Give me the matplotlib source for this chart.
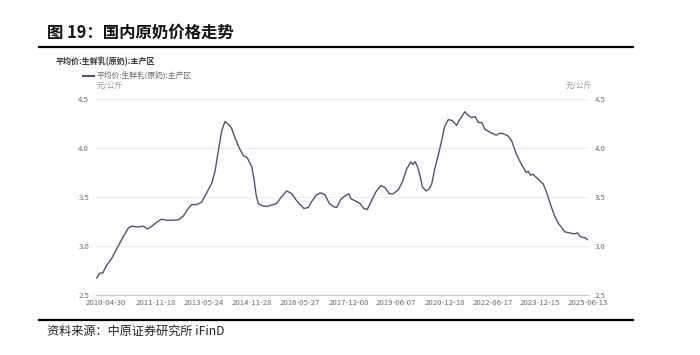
import matplotlib
matplotlib.use("Agg")
import matplotlib.pyplot as plt
import pandas as pd
from matplotlib.lines import Line2D

plt.rcParams["font.family"] = ["Noto Sans CJK SC", "DejaVu Sans"]

# 平均价:生鲜乳(原奶):主产区, 元/公斤
dates = [
    "2010-01-15", "2010-02-20", "2010-03-25", "2010-05-08", "2010-07-05", "2010-09-02",
    "2010-11-14", "2011-01-11", "2011-02-20", "2011-05-04", "2011-07-02", "2011-08-18",
    "2011-10-04", "2011-12-02", "2012-01-29", "2012-03-24", "2012-06-09", "2012-08-06",
    "2012-10-01", "2012-11-28", "2013-01-07", "2013-03-07", "2013-04-30", "2013-06-28",
    "2013-08-25", "2013-10-01", "2013-11-06", "2013-12-16", "2014-01-22", "2014-03-03",
    "2014-04-09", "2014-05-19", "2014-07-05", "2014-08-22", "2014-10-04", "2014-11-25",
    "2014-12-20", "2015-01-15", "2015-02-09", "2015-03-18", "2015-05-15", "2015-07-31",
    "2015-09-05", "2015-11-03", "2016-01-01", "2016-02-27", "2016-04-15", "2016-06-01",
    "2016-07-15", "2016-09-04", "2016-10-11", "2016-12-08", "2017-01-26", "2017-03-14",
    "2017-05-04", "2017-06-17", "2017-07-27", "2017-09-09", "2017-10-30", "2017-12-13",
    "2018-01-04", "2018-02-20", "2018-04-20", "2018-06-02", "2018-07-12", "2018-08-29",
    "2018-10-19", "2018-12-13", "2019-01-29", "2019-03-21", "2019-05-04", "2019-07-02",
    "2019-08-22", "2019-10-04", "2019-11-21", "2019-12-20", "2020-01-11", "2020-02-06",
    "2020-03-06", "2020-04-04", "2020-05-14", "2020-06-20", "2020-07-19", "2020-08-24",
    "2020-10-03", "2020-11-09", "2020-12-15", "2021-01-26", "2021-03-10", "2021-04-30",
    "2021-06-06", "2021-08-03", "2021-09-13", "2021-10-19", "2021-11-28", "2022-01-04",
    "2022-02-13", "2022-03-21", "2022-05-19", "2022-07-27", "2022-09-09", "2022-10-19",
    "2022-12-13", "2023-01-22", "2023-03-18", "2023-05-15", "2023-07-05", "2023-07-31",
    "2023-08-25", "2023-09-23", "2023-11-21", "2024-01-18", "2024-02-24", "2024-04-11",
    "2024-05-29", "2024-07-08", "2024-08-17", "2024-09-22", "2024-11-20", "2025-01-01",
    "2025-02-13", "2025-03-21", "2025-05-11", "2025-06-13",
]
prices = [
    2.67, 2.72, 2.72, 2.80, 2.87, 2.97,
    3.09, 3.18, 3.20, 3.19, 3.20, 3.17,
    3.195, 3.24, 3.27, 3.26, 3.26, 3.265,
    3.30, 3.38, 3.42, 3.42, 3.445, 3.54,
    3.64, 3.76, 3.96, 4.17, 4.27, 4.24,
    4.20, 4.10, 4.00, 3.92, 3.90, 3.81,
    3.69, 3.52, 3.43, 3.41, 3.40, 3.42,
    3.43, 3.50, 3.56, 3.53, 3.47, 3.42,
    3.38, 3.39, 3.45, 3.52, 3.54, 3.52,
    3.43, 3.40, 3.39, 3.47, 3.51, 3.53,
    3.48, 3.46, 3.43, 3.38, 3.37, 3.46,
    3.55, 3.615, 3.595, 3.53, 3.53, 3.57,
    3.66, 3.78, 3.855, 3.83, 3.86, 3.81,
    3.72, 3.60, 3.56, 3.58, 3.63, 3.79,
    3.93, 4.07, 4.22, 4.29, 4.28, 4.23,
    4.29, 4.37, 4.33, 4.31, 4.32, 4.26,
    4.26, 4.19, 4.16, 4.13, 4.15, 4.145,
    4.12, 4.07, 3.93, 3.83, 3.75, 3.76,
    3.72, 3.73, 3.68, 3.63, 3.55, 3.42,
    3.30, 3.23, 3.185, 3.14, 3.13, 3.12,
    3.13, 3.09, 3.08, 3.06,
]
tick_dates = [
    "2010-04-30", "2011-11-18", "2013-05-24", "2014-11-28", "2016-05-27", "2017-12-08",
    "2019-06-07", "2020-12-18", "2022-06-17", "2023-12-15", "2025-06-13",
]
y_ticks = [2.5, 3.0, 3.5, 4.0, 4.5]

SERIES_NAME = "平均价:生鲜乳(原奶):主产区"
LINE_COLOR = "#4e5275"
TICK_COLOR = "#6b6b6b"

df = pd.DataFrame({"date": pd.to_datetime(dates), "price": prices})

fig = plt.figure(figsize=(7, 3.55), dpi=100)
ax = fig.add_axes([96 / 700, 1 - 294.5 / 355, 492 / 700, 195.5 / 355])

ax.plot(df["date"], df["price"], color=LINE_COLOR, lw=1.0)

ax.set_xlim(pd.Timestamp("2010-01-06"), pd.Timestamp("2025-06-14"))
ax.set_ylim(2.5, 4.5)
ax.set_yticks(y_ticks)
ax.set_yticklabels([f"{v:.1f}" for v in y_ticks])
ax.set_xticks(pd.to_datetime(tick_dates))
ax.set_xticklabels(tick_dates)

ax.grid(axis="y", color="#ebebeb", lw=0.7)
ax.set_axisbelow(True)
for side in ("top", "left", "right"):
    ax.spines[side].set_visible(False)
ax.spines["bottom"].set_color("#c8c8c8")
ax.spines["bottom"].set_linewidth(0.8)
ax.tick_params(axis="both", length=0, labelsize=5.6, labelcolor=TICK_COLOR)
ax.tick_params(axis="y", labelleft=True, labelright=True, pad=5)
ax.tick_params(axis="x", pad=3)

# chart header, legend and unit labels
fig.text(56 / 700, 1 - 62 / 355, SERIES_NAME, fontsize=5.8, fontweight="bold",
         color="#333333", va="center")
fig.add_artist(Line2D([83 / 700, 94 / 700], [1 - 75.5 / 355] * 2,
                      color=LINE_COLOR, lw=1.5))
fig.text(97 / 700, 1 - 75.5 / 355, SERIES_NAME, fontsize=5.6, color=TICK_COLOR,
         va="center")
fig.text(97 / 700, 1 - 86 / 355, "元/公斤", fontsize=5.6, color="#999999", va="center")
fig.text(566 / 700, 1 - 86 / 355, "元/公斤", fontsize=5.6, color="#999999", va="center")

# report title, rules and source
fig.text(47 / 700, 1 - 33 / 355, "图 19：国内原奶价格走势", fontsize=11.8,
         fontweight="bold", color="#111111", va="center")
fig.add_artist(Line2D([39 / 700, 633 / 700], [1 - 46.5 / 355] * 2, color="black", lw=1.6))
fig.add_artist(Line2D([39 / 700, 633 / 700], [1 - 320 / 355] * 2, color="black", lw=1.6))
fig.text(47 / 700, 1 - 331 / 355, "资料来源：中原证券研究所 iFinD", fontsize=8.7,
         color="#222222", va="center")

fig.savefig("out.png", dpi=100, facecolor="white")
